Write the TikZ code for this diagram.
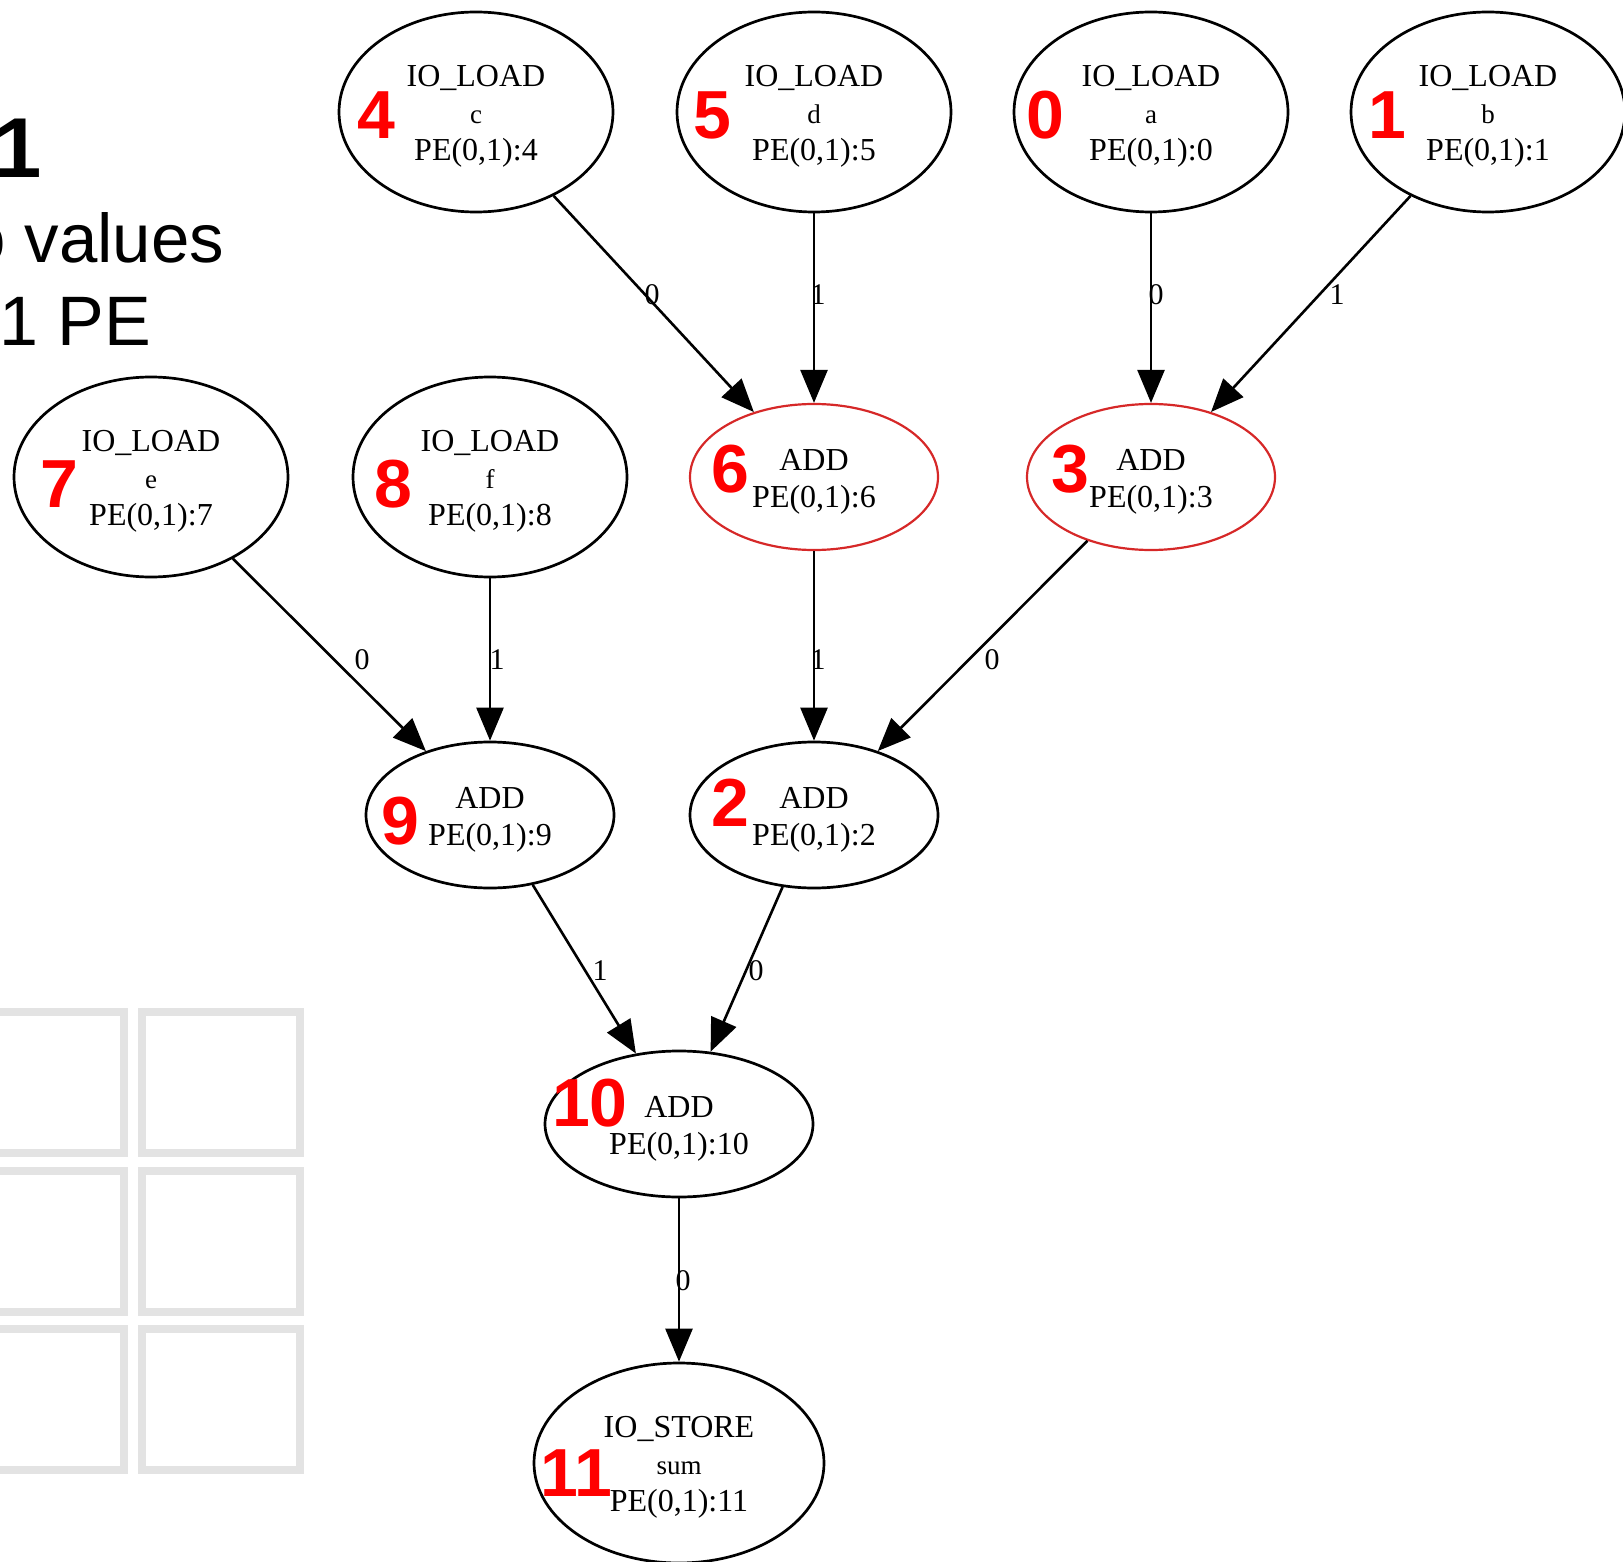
\documentclass[tikz,border=0pt]{standalone}
\usepackage{fontspec}
\setmainfont{Liberation Serif}
\newfontfamily\numfont{Liberation Sans}
\usetikzlibrary{shapes.geometric,arrows.meta}

\definecolor{pered}{RGB}{255,0,0}
\definecolor{hotline}{RGB}{214,40,40}
\definecolor{gridgray}{RGB}{227,227,227}

% smaller middle line (variable name) and a strut that lowers the text block a little
\newcommand{\sublabel}[1]{{\fontsize{27}{37}\selectfont #1}}
\newcommand{\topstrut}{\rule{0pt}{30pt}}

\begin{document}
\begin{tikzpicture}[x=1pt,y=-1pt,
  op/.style={ellipse, draw=black, line width=2.7pt, inner sep=0pt, align=center,
             font=\fontsize{32}{37}\selectfont},
  ioop/.style={op, minimum width=274pt, minimum height=200pt},
  addop/.style={op, minimum width=248pt, minimum height=146pt},
  hot/.style={draw=hotline, line width=2.2pt},
  flow/.style={line width=2.6pt, -{Triangle[length=33pt,width=27pt]}},
  lbl/.style={inner sep=0pt, font=\fontsize{30}{30}\selectfont},
  idnum/.style={inner sep=0pt, text=pered, font=\numfont\bfseries\fontsize{68}{68}\selectfont},
  slide/.style={inner sep=0pt, anchor=base west, font=\numfont\fontsize{69}{69}\selectfont},
  cell/.style={draw=gridgray, line width=8pt}
]
\useasboundingbox (0,0) rectangle (1623,1562);

% slide text on the left
\node[slide, font=\numfont\bfseries\fontsize{85}{85}\selectfont] (title) at (-6,178) {1};
\node[slide] (vals) at (-33,263) {o values};
\node[slide, font=\numfont\fontsize{70}{70}\selectfont] (pes) at (-1,345) {1 PE};

% PE grid
\draw[cell] (-34,1012) rectangle (124,1153);
\draw[cell] (142,1012) rectangle (300,1153);
\draw[cell] (-34,1171) rectangle (124,1312);
\draw[cell] (142,1171) rectangle (300,1312);
\draw[cell] (-34,1329) rectangle (124,1470);
\draw[cell] (142,1329) rectangle (300,1470);

% operation nodes
\node[ioop] (n4) at (476,112) {\topstrut IO\_LOAD\\\sublabel{c}\\PE(0,1):4};
\node[ioop] (n5) at (814,112) {\topstrut IO\_LOAD\\\sublabel{d}\\PE(0,1):5};
\node[ioop] (n0) at (1151,112) {\topstrut IO\_LOAD\\\sublabel{a}\\PE(0,1):0};
\node[ioop] (n1) at (1488,112) {\topstrut IO\_LOAD\\\sublabel{b}\\PE(0,1):1};
\node[ioop] (n7) at (151,477) {\topstrut IO\_LOAD\\\sublabel{e}\\PE(0,1):7};
\node[ioop] (n8) at (490,477) {\topstrut IO\_LOAD\\\sublabel{f}\\PE(0,1):8};
\node[addop, hot] (n6) at (814,477) {\topstrut ADD\\PE(0,1):6};
\node[addop, hot] (n3) at (1151,477) {\topstrut ADD\\PE(0,1):3};
\node[addop] (n9) at (490,815) {\topstrut ADD\\PE(0,1):9};
\node[addop] (n2) at (814,815) {\topstrut ADD\\PE(0,1):2};
\node[addop, minimum width=268pt] (n10) at (679,1124) {\topstrut ADD\\PE(0,1):10};
\node[ioop, minimum width=290pt] (n11) at (679,1463) {\topstrut IO\_STORE\\\sublabel{sum}\\PE(0,1):11};

% data-flow edges
\draw[flow] (n4) -- (n6);
\draw[flow] (n5) -- (n6);
\draw[flow] (n0) -- (n3);
\draw[flow] (n1) -- (n3);
\draw[flow] (n7) -- (n9);
\draw[flow] (n8) -- (n9);
\draw[flow] (n6) -- (n2);
\draw[flow] (n3) -- (n2);
\draw[flow] (n9) -- (n10);
\draw[flow] (n2) -- (n10);
\draw[flow] (n10) -- (n11);

% operand port labels
\node[lbl] (p46) at (652,295) {0};
\node[lbl] (p56) at (818,295) {1};
\node[lbl] (p03) at (1156,295) {0};
\node[lbl] (p13) at (1337,295) {1};
\node[lbl] (p79) at (362,660) {0};
\node[lbl] (p89) at (497,660) {1};
\node[lbl] (p62) at (818,660) {1};
\node[lbl] (p32) at (992,660) {0};
\node[lbl] (p910) at (600,971) {1};
\node[lbl] (p210) at (756,971) {0};
\node[lbl] (p1011) at (683,1281) {0};

% node ids
\node[idnum] (i4) at (376,115) {4};
\node[idnum] (i5) at (712,115) {5};
\node[idnum] (i0) at (1045,115) {0};
\node[idnum] (i1) at (1387,115) {1};
\node[idnum] (i7) at (59,484) {7};
\node[idnum] (i8) at (393,484) {8};
\node[idnum] (i6) at (730,469) {6};
\node[idnum] (i3) at (1070,469) {3};
\node[idnum] (i9) at (400,821) {9};
\node[idnum] (i2) at (730,803) {2};
\node[idnum] (i10) at (590,1103) {10};
\node[idnum] (i11) at (576,1473) {11};
\end{tikzpicture}
\end{document}
